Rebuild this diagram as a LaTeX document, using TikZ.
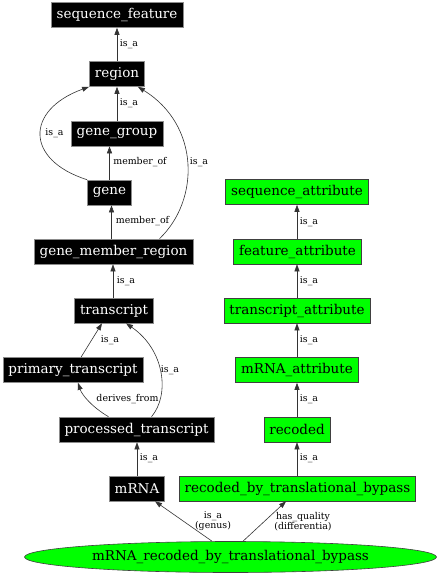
\documentclass[tikz,border=0pt]{standalone}
\usepackage{fontspec}
\setmainfont{DejaVu Serif}
\usetikzlibrary{shapes.geometric,arrows.meta}
\definecolor{brightgreen}{RGB}{0,255,0}
\begin{document}
\begin{tikzpicture}[x=1pt,y=-1pt,
  blk/.style={draw=black!45, fill=black, text=white, font=\fontsize{13.5}{15}\selectfont, minimum height=25, inner xsep=5.5, inner ysep=0, line width=0.6},
  grn/.style={draw=black!75, fill=brightgreen, text=black, font=\fontsize{13.5}{15}\selectfont, minimum height=25, inner xsep=5.5, inner ysep=0, line width=0.6},
  lbl/.style={font=\fontsize{9.4}{10}\selectfont, inner sep=0, align=center},
  edge/.style={draw=black!80, line width=0.6, -{Triangle[length=7,width=5]}}
]
\useasboundingbox (0,0) rectangle (439,576);
% left column
\node[blk] (sf) at (117,15) {sequence\_feature};
\node[blk] (region) at (117,74) {region};
\node[blk] (gg) at (117,133.5) {gene\_group};
\node[blk] (gene) at (109.5,192.5) {gene};
\node[blk] (gmr) at (113.5,251.5) {gene\_member\_region};
\node[blk] (tr) at (114,310.5) {transcript};
\node[blk] (pt) at (73,370) {primary\_transcript};
\node[blk] (proc) at (136.5,429.5) {processed\_transcript};
\node[blk] (mrna) at (137,488.5) {mRNA};
% right column
\node[grn] (sa) at (297,192) {sequence\_attribute};
\node[grn] (fa) at (297.5,251.5) {feature\_attribute};
\node[grn] (ta) at (297,310.5) {transcript\_attribute};
\node[grn] (ma) at (297,370) {mRNA\_attribute};
\node[grn] (rec) at (297,429.5) {recoded};
\node[grn] (rtb) at (297.5,488.5) {recoded\_by\_translational\_bypass};
% ellipse
\node[ellipse, draw=black!75, fill=brightgreen, minimum width=412, minimum height=31, inner sep=0, line width=0.6, font=\fontsize{13.5}{15}\selectfont] (ell) at (230.5,557) {mRNA\_recoded\_by\_translational\_bypass};

% edges left
\draw[edge] (region.north) -- (region.north |- sf.south);
\node[lbl] (l1) at (129,44) {is\_a};
\draw[edge] (gg.north) -- (gg.north |- region.south);
\node[lbl] (l2) at (129,103) {is\_a};
\draw[edge] (gene.north west) .. controls (25,160) and (25,110) .. (region.south west);
\node[lbl] (l3) at (54.5,133) {is\_a};
\draw[edge] (gene.north) -- (gene.north |- gg.south);
\node[lbl] (l4) at (140,162) {member\_of};
\draw[edge] ([xshift=-2]gmr.north) -- ([xshift=-2]gmr.north |- gene.south);
\node[lbl] (l5) at (142.5,221) {member\_of};
\draw[edge] ([xshift=46]gmr.north) .. controls (200,200) and (200,125) .. ([xshift=-7]region.south east);
\node[lbl] (l6) at (199,162) {is\_a};
\draw[edge] ([xshift=-1]tr.north) -- ([xshift=-1]tr.north |- gmr.south);
\node[lbl] (l7) at (126,281) {is\_a};
\draw[edge] ([xshift=8]pt.north) -- ([xshift=-12]tr.south);
\node[lbl] (l8) at (110,340) {is\_a};
\draw[edge] ([xshift=15]proc.north) .. controls (170,395) and (165,350) .. ([xshift=12]tr.south);
\node[lbl] (l9) at (170,370) {is\_a};
\draw[edge] ([xshift=-28]proc.north) .. controls (92,407) and (82,395) .. ([xshift=5]pt.south);
\node[lbl] (l10) at (127.5,399) {derives\_from};
\draw[edge] (mrna.north) -- (mrna.north |- proc.south);
\node[lbl] (l11) at (149,458) {is\_a};
% edges from ellipse
\draw[edge] ([xshift=-18.5]ell.north) -- ([xshift=18]mrna.south);
\node[lbl] (l12) at (213,521.5) {is\_a\\(genus)};
\draw[edge] ([xshift=12.5]ell.north) -- ([xshift=-11.5]rtb.south);
\node[lbl] (l13) at (303,521.5) {has\_quality\\(differentia)};
% edges right
\draw[edge] (rtb.north -| rec.south) -- (rec.south);
\node[lbl] (r1) at (309,458) {is\_a};
\draw[edge] (rec.north) -- (ma.south -| rec.north);
\node[lbl] (r2) at (309,399) {is\_a};
\draw[edge] (ma.north) -- (ta.south -| ma.north);
\node[lbl] (r3) at (309,340) {is\_a};
\draw[edge] (ta.north) -- (fa.south -| ta.north);
\node[lbl] (r4) at (309,281) {is\_a};
\draw[edge] (fa.north -| sa.south) -- (sa.south);
\node[lbl] (r5) at (309,222) {is\_a};
\end{tikzpicture}
\end{document}
